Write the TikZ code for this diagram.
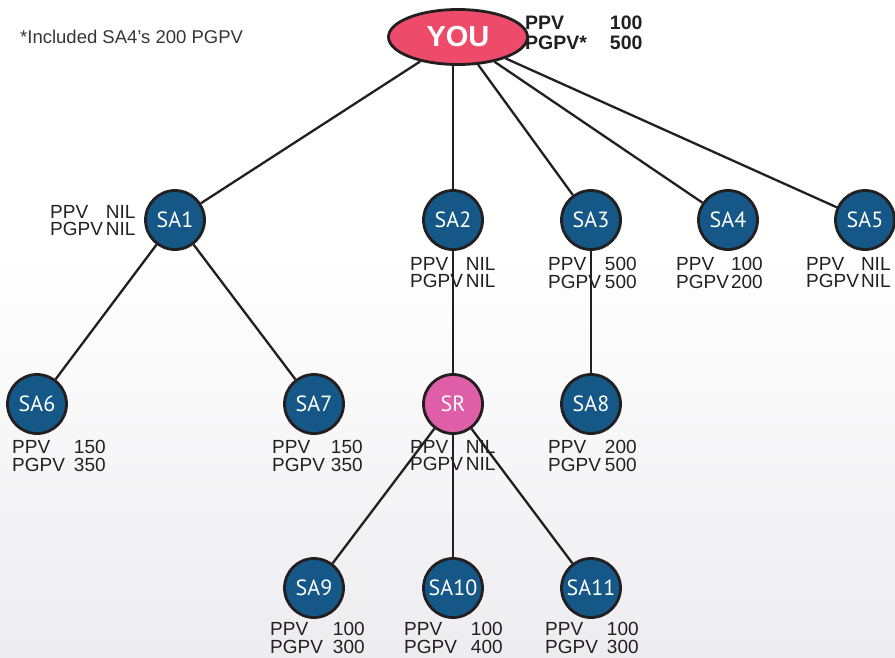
\documentclass[tikz,border=0pt]{standalone}
\usepackage{fontspec}
\usetikzlibrary{shapes.geometric}
\setmainfont{Liberation Sans}
\newfontfamily\nodefont{PT Sans}
\definecolor{sablue}{RGB}{21,88,136}
\definecolor{srpink}{RGB}{222,94,168}
\definecolor{youred}{RGB}{238,75,106}
\definecolor{ink}{RGB}{35,31,32}
\definecolor{bgbot}{RGB}{237,237,240}
% two-row PPV / PGPV table
\newcommand{\pv}[3][3pt]{\begin{tabular}{@{}l@{\hspace{#1}}l@{}}PPV & #2\\PGPV & #3\end{tabular}}
\begin{document}
\begin{tikzpicture}[x=1pt, y=-1pt,
    sa/.style={circle, draw=ink, line width=2.8pt, fill=sablue, minimum size=59pt, inner sep=0pt,
        text=white, font=\nodefont\fontsize{22}{22}\selectfont},
    you/.style={ellipse, draw=ink, line width=2.8pt, fill=youred, minimum width=139pt, minimum height=55pt,
        inner sep=0pt, text=white, font=\bfseries\fontsize{29}{29}\selectfont},
    info/.style={inner sep=0pt, text=ink, font=\fontsize{19}{14.5}\selectfont},
    link/.style={draw=ink, line width=2.3pt}
]
% Sfondo
\useasboundingbox (0,0) rectangle (895,657);
\fill[white] (0,0) rectangle (895,250);
\shade[top color=white, bottom color=bgbot] (0,250) rectangle (895,657);

% Nodi
\node[you] (you) at (458,37) {YOU};
\node[sa] (sa1) at (175,220) {SA1};
\node[sa] (sa2) at (453,220) {SA2};
\node[sa] (sa3) at (591,220) {SA3};
\node[sa] (sa4) at (728,220) {SA4};
\node[sa] (sa5) at (865,220) {SA5};
\node[sa] (sa6) at (37,404) {SA6};
\node[sa] (sa7) at (314,404) {SA7};
\node[sa, fill=srpink] (sr) at (453,404) {SR};
\node[sa] (sa8) at (591,404) {SA8};
\node[sa] (sa9) at (314,588) {SA9};
\node[sa] (sa10) at (453,588) {SA10};
\node[sa] (sa11) at (591,588) {SA11};

% Collegamenti
\draw[link] (you) -- (sa1);
\draw[link] (you.south -| sa2) -- (sa2);
\draw[link] (you) -- (sa3);
\draw[link] (you) -- (sa4);
\draw[link] (you) -- (sa5);
\draw[link] (sa1) -- (sa6);
\draw[link] (sa1) -- (sa7);
\draw[link] (sa2) -- (sr);
\draw[link] (sa3) -- (sa8);
\draw[link] (sr) -- (sa9);
\draw[link] (sr) -- (sa10);
\draw[link] (sr) -- (sa11);

% Valori
\node[info, font=\fontsize{18.5}{18.5}\selectfont, text=ink!90, anchor=west] (note) at (20,37) {*Included SA4’s 200 PGPV};
\node[info, font=\bfseries\fontsize{19.5}{19}\selectfont, anchor=north west] (youinfo) at (525,16)
    {\begin{tabular}{@{}l@{\hspace{23pt}}l@{}}PPV & 100\\PGPV* & 500\end{tabular}};
\node[info, anchor=north west] (info1) at (50,205) {\pv{NIL}{NIL}};
\node[info, anchor=north west] (info2) at (410,257) {\pv{NIL}{NIL}};
\node[info, anchor=north west] (info3) at (548,257) {\pv[4pt]{500}{500}};
\node[info, anchor=north west] (info4) at (676,257) {\pv[2pt]{100}{200}};
\node[info, anchor=north west] (info5) at (806,257) {\pv[2pt]{NIL}{NIL}};
\node[info, anchor=north west] (info6) at (12,440) {\pv[9pt]{150}{350}};
\node[info, anchor=north west] (info7) at (272,440) {\pv[6pt]{150}{350}};
\node[info, anchor=north west] (infosr) at (410,440) {\pv{NIL}{NIL}};
\node[info, anchor=north west] (info8) at (548,440) {\pv[4pt]{200}{500}};
\node[info, anchor=north west] (info9) at (270,622) {\pv[10pt]{100}{300}};
\node[info, anchor=north west] (info10) at (404,622) {\pv[14pt]{100}{400}};
\node[info, anchor=north west] (info11) at (545,622) {\pv[9pt]{100}{300}};
\end{tikzpicture}
\end{document}
